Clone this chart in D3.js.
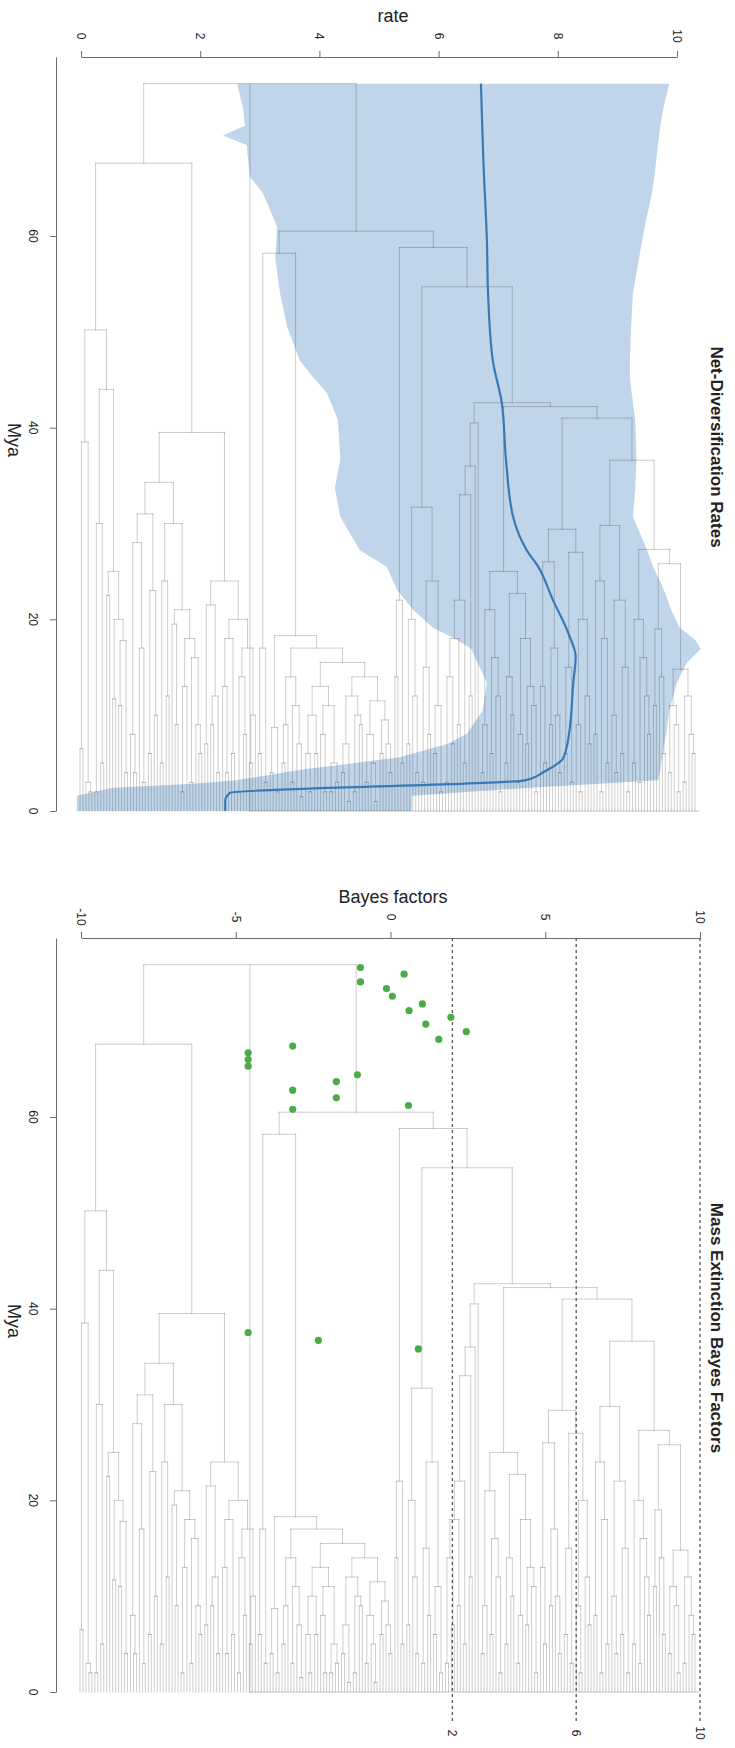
<!DOCTYPE html>
<html><head><meta charset="utf-8">
<script src="https://cdn.jsdelivr.net/npm/d3@7"></script>
<style>body{margin:0;background:#fff}svg{display:block}text{font-family:"Liberation Sans",Arial,Helvetica,sans-serif}</style>
</head><body><svg id="c" width="735" height="1748"></svg>
<script>
// ---------------- DATA ----------------
// Phylogeny, written clade by clade (t = tip, number after ")" = node age in Mya)
const cladeA1  = "(((t,t)6.5,(t,(t,t)2)3)38.5,(((t,t)2,(t,t)5)30,((t,t)22.5,((t,t)11.7,((t,t)11,(t,t)4)17.8)20)25)44)50.2";
const cladeA2a = "((((t,(t,t)4)8,(t,(t,t)3)17)28,((t,t)6,(t,t)10)23)31,(((t,t)5,(t,t)12)24,((t,(t,t)9)19.5,(((t,t)2,t)13,((t,t)3,(t,(t,t)6)9)16)18)21)30)34.3";
const cladeA2b = "(((t,t)7,((t,t)9,(t,t)4)12)21.5,(((t,(t,t)4)13,(t,t)6)18,(((t,t)2,(t,t)8)14,((t,t)5,t)10)17)20)24";
const cladeB1L = "((t,t)6,(t,t)3)17";
const cladeB1a = "((t,t)4,(t,t)2)8.7";
const cladeB1b = "(((t,t)5,t)9,((t,t)3,(t,(t,t)1.5)7)11)14";
const cladeB1c = "((((t,(t,t)2)6,(t,t)6)10,((t,(t,t)2)8,((t,t)2,(t,t)3)5)11)13,((((t,t)4,(t,t)1)7,((t,t)2,(t,t)9)10)12,(((t,t)3,(t,(t,t)1)5)8,((t,t)6,(t,(t,t)4)7)9.5)11.5)14)15.5";
const cladeB2a = "((t,t)14,(t,t)5)22";
const cladeC1  = "((t,t)7,(t,(t,t)4)12)20";
const cladeC2  = "(((t,t)3,(t,t)8)15,((t,t)6,(t,t)2)11)24";
const cladeD   = "(((((((t,t)3,(t,t)7)14,(t,t)9)18,(t,t)5)22,(t,t)12)33,t)36,t)40.5";
const cladeE1  = "(((t,t)4,t)9,((t,t)6,(t,(t,t)2)12)16)21";
const cladeE2  = "(((t,t)5,(t,t)10)14,(((t,t)3,t)8,((t,t)7,(t,(t,t)2)11)13)18)22.7";
const cladeF1  = "((t,(t,t)5)13,((t,t)9,(t,(t,t)4)10)17)26";
const cladeF2  = "(((t,t)6,(t,t)3)15,((t,(t,t)2)9,(t,(t,t)7)12)20)27";
const cladeG1  = "((t,t)8,((t,t)2,(t,t)5)18)24";
const cladeG2  = "((t,(t,t)4)10,((t,t)6,(t,t)2)15)22";
const cladeH1  = "((t,t)5,((t,t)3,(t,(t,t)8)12)16)20";
const cladeH2  = "((t,t)11,(t,(t,t)6)14)19";
const cladeH3  = "(((t,t)4,(t,(t,t)2)9)11,((t,t)3,(t,(t,t)6)8)12)14.8";
const treeNewick =
 `(((${cladeA1},(${cladeA2a},${cladeA2b})39.5)67.6,` +
 `((${cladeB1L},(${cladeB1a},(${cladeB1b},${cladeB1c})17)18.3)58.2,` +
 `(${cladeB2a},((${cladeC1},${cladeC2})31.7,(${cladeD},((${cladeE1},${cladeE2})25,` +
 `((${cladeF1},${cladeF2})29.4,((${cladeG1},${cladeG2})29.8,(${cladeH1},(${cladeH2},${cladeH3})25.8)27.3)36.6)41)42.2)42.6)54.7)58.8)60.5)75.9`;

// Net-diversification rate through time
const rateAge  = [75.9,68,59.6,54,47,42.6,36.7,30.7,27.2,25.5,22,18.2,16.1,13.4,8.1,5.5,4.1,3.2,1.9,1.1,0];
const rateMean = [6.71,6.75,6.81,6.83,6.91,7.06,7.13,7.25,7.48,7.67,7.92,8.2,8.3,8.26,8.19,8.09,7.77,7.45,2.5,2.42,2.42];
const ciAge  = [75.9,73.3,71.5,70.5,69.5,66.2,64.5,61,57.6,54,50.5,47,45.3,43.6,40.8,36.7,33.7,30.7,27.2,25.5,23.1,21,19.1,17.9,16.9,15.5,13.4,10.5,8.1,7,5.6,4.3,3.2,2.9,2.4,1.6,0];
const ciLow  = [2.62,2.72,2.75,2.38,2.78,2.83,3.05,3.29,3.26,3.34,3.46,3.67,3.89,4.13,4.31,4.35,4.26,4.35,4.68,5.13,5.3,5.57,5.91,6.3,6.55,6.65,6.81,6.74,6.48,6.14,5.35,3.68,2.6,2.0,0.52,-0.07,-0.07];
const ciHigh = [9.87,9.77,9.72,9.7,9.68,9.62,9.58,9.46,9.36,9.26,9.23,9.21,9.21,9.24,9.3,9.32,9.3,9.26,9.5,9.6,9.78,9.9,10.05,10.3,10.4,10.17,10,9.87,9.82,9.79,9.75,9.72,9.68,8.83,7.47,5.55,5.55];

// Mass extinction Bayes factors
const bfAge   = [75.6,74.1,74.9,73.4,72.6,71.8,71.1,70.4,69.7,68.9,68.1,67.4,66.7,66.0,65.3,64.4,63.7,62.8,62.0,61.2,60.8,37.5,36.7,35.8];
const bfValue = [-0.97,-0.97,0.44,-0.13,0.06,1.03,0.6,1.95,1.14,2.45,1.56,-3.16,-4.6,-4.6,-4.6,-1.07,-1.75,-3.16,-1.75,0.58,-3.16,-4.6,-2.33,0.9];

const rateTicks = [0,2,4,6,8,10];
const bfTicks = [-10,-5,0,5,10];
const myaTicks = [0,20,40,60];
const bfThresholds = [2,6,10];
const titles = ["Net-Diversification Rates","Mass Extinction Bayes Factors"];

// ---------------- TREE ----------------
function parse(s){
  let i=0;
  function node(){
    if(s[i]==="("){
      i++; const a=node(); i++; const b=node(); i++;
      const j=i; while(i<s.length && /[0-9.]/.test(s[i])) i++;
      return {children:[a,b], age:+s.slice(j,i)};
    }
    i++; return {age:0};
  }
  return node();
}
const treeRoot = parse(treeNewick);
let nTip=0;
(function idx(n){ if(n.children) n.children.forEach(idx); else n.i=nTip++; })(treeRoot);
const tipX = d3.scaleLinear().domain([0,nTip-1]).range([80,698]);
(function setX(n){ if(n.children){ n.children.forEach(setX); n.x=d3.mean(n.children,c=>c.x);} else n.x=tipX(n.i); })(treeRoot);
const segs=[];
(function collect(n){
  if(!n.children) return;
  segs.push({x1:n.children[0].x,x2:n.children[1].x,a1:n.age,a2:n.age});
  n.children.forEach(c=>{ segs.push({x1:c.x,x2:c.x,a1:n.age,a2:c.age}); collect(c); });
})(treeRoot);

const svg = d3.select("#c");
const AX="#6b6b6b", TXT="#222";
function drawTree(g,y){
  g.selectAll("line.br").data(segs).join("line").attr("class","br")
   .attr("x1",d=>d.x1).attr("x2",d=>d.x2).attr("y1",d=>y(d.a1)).attr("y2",d=>y(d.a2))
   .attr("stroke","rgba(0,0,0,0.2)").attr("stroke-width",1).attr("stroke-linecap","square");
}
function rotText(g,x,y,str,size,weight,anchor){
  g.append("text").attr("transform",`translate(${x},${y}) rotate(90)`)
   .attr("text-anchor",anchor||"middle").attr("dominant-baseline","central")
   .attr("font-size",size).attr("font-weight",weight||"normal").attr("fill",TXT).text(str);
}
function drawPanel(off,xScale,ticks,xTitle,title){
  const g = svg.append("g");
  const y = d3.scaleLinear().domain([0,60]).range([811+off,236+off]);
  const yAxisScale = y.copy().domain([0,y.invert(57+off)]).range([811+off,57+off]);
  const ax = g.append("g").attr("transform",`translate(0,${57+off})`)
    .call(d3.axisTop(xScale).tickValues(ticks).tickSize(6).tickSizeOuter(0).tickFormat(""));
  ax.selectAll("path,line").attr("stroke",AX);
  ticks.forEach(t=>rotText(g,xScale(t),36+off,String(t),12));
  g.append("text").attr("x",393).attr("y",16+off).attr("text-anchor","middle").attr("dominant-baseline","central")
   .attr("font-size",18).attr("fill",TXT).text(xTitle);
  const ay = g.append("g").attr("transform","translate(56,0)")
    .call(d3.axisLeft(yAxisScale).tickValues(myaTicks).tickSize(6).tickSizeOuter(0).tickFormat(""));
  ay.selectAll("path,line").attr("stroke",AX);
  myaTicks.forEach(t=>rotText(g,33,y(t),String(t),12));
  rotText(g,14,440+off,"Mya",18);
  rotText(g,716,447+off,title,17,"bold");
  return {g,y};
}

// ---- top panel
const rateX = d3.scaleLinear().domain([0,10]).range([81,677]);
const topP = drawPanel(0,rateX,rateTicks,"rate",titles[0]);
const band = ciAge.map((a,i)=>({a,lo:ciLow[i],hi:ciHigh[i]}));
topP.g.append("path").datum(band)
  .attr("d",d3.area().y(d=>topP.y(d.a)).x0(d=>rateX(d.lo)).x1(d=>rateX(d.hi)))
  .attr("fill","#c0d5e9");
drawTree(topP.g.append("g"),topP.y);
topP.g.append("path").datum(rateAge.map((a,i)=>({a,v:rateMean[i]})))
  .attr("d",d3.line().curve(d3.curveMonotoneY).y(d=>topP.y(d.a)).x(d=>rateX(d.v)))
  .attr("fill","none").attr("stroke","#3a79b6").attr("stroke-width",2.2);

// ---- bottom panel
const OFF=881;
const bfX = d3.scaleLinear().domain([-10,10]).range([81,700]);
const botP = drawPanel(OFF,bfX,bfTicks,"Bayes factors",titles[1]);
drawTree(botP.g.append("g"),botP.y);
botP.g.selectAll("line.thr").data(bfThresholds).join("line").attr("class","thr")
  .attr("x1",d=>bfX(d)).attr("x2",d=>bfX(d)).attr("y1",57+OFF).attr("y2",1721)
  .attr("stroke","#555").attr("stroke-width",1.3).attr("stroke-dasharray","3,3");
bfThresholds.forEach(t=>rotText(botP.g,bfX(t),1733,String(t),12));
botP.g.selectAll("circle").data(bfAge.map((a,i)=>({a,v:bfValue[i]}))).join("circle")
  .attr("cx",d=>bfX(d.v)).attr("cy",d=>botP.y(d.a)).attr("r",3.6).attr("fill","#4aab48");
</script></body></html>
